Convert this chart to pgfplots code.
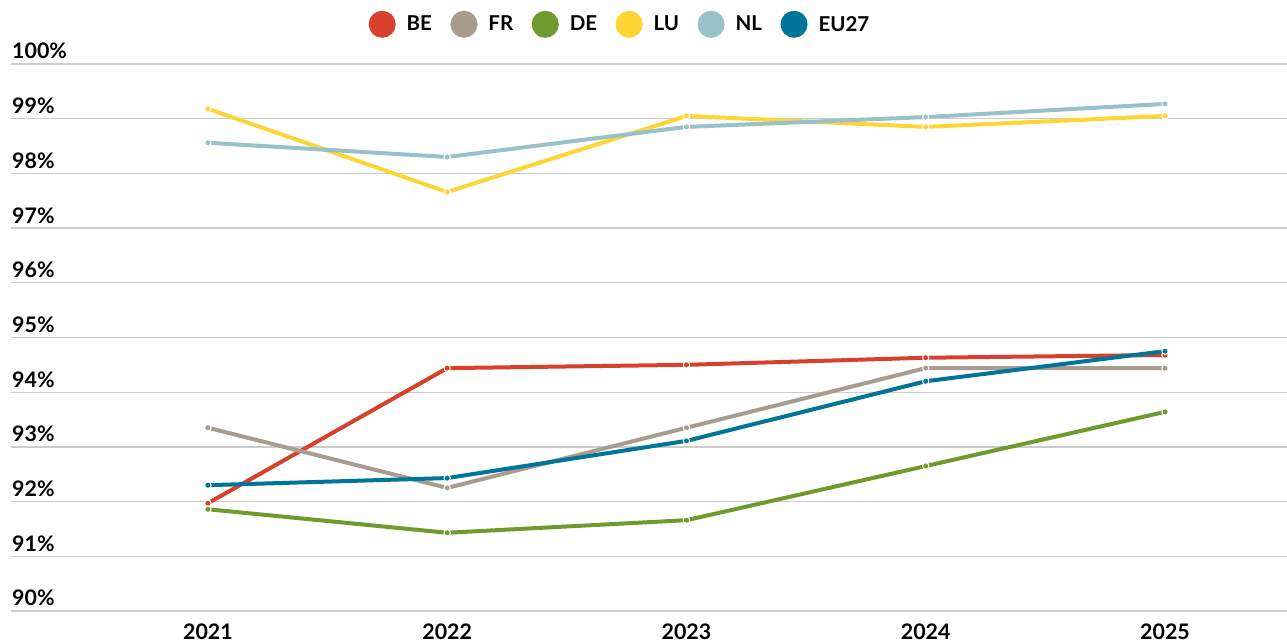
\documentclass[border=0pt]{standalone}
\usepackage{pgfplots}
\pgfplotsset{compat=1.18}
\usepackage{fontspec}
\setmainfont{Lato}
\definecolor{cBE}{HTML}{D7402A}
\definecolor{cFR}{HTML}{A89C8F}
\definecolor{cDE}{HTML}{6F9A2E}
\definecolor{cLU}{HTML}{FDD535}
\definecolor{cNL}{HTML}{99C1C9}
\definecolor{cEU}{HTML}{00759A}
\begin{document}
\begin{tikzpicture}
\begin{axis}[
  at={(0,0)}, anchor=south west,
  scale only axis, width=1276pt, height=547pt,
  xmin=2020.177, xmax=2025.51, ymin=90, ymax=100,
  axis line style={draw=none},
  tick style={draw=none},
  clip=false,
  xtick={2021,2022,2023,2024,2025},
  xticklabels={2021,2022,2023,2024,2025},
  ytick={90,91,92,93,94,95,96,97,98,99,100},
  yticklabels={90\%,91\%,92\%,93\%,94\%,95\%,96\%,97\%,98\%,99\%,100\%},
  ymajorgrids, grid style={draw=black!20, line width=1.3pt},
  major tick length=0pt,
  tick label style={font=\fontsize{21.4}{25}\selectfont\bfseries, text=black},
  yticklabel style={anchor=base west, inner sep=0pt, xshift=1pt, yshift=5pt},
  xticklabel style={anchor=north, inner sep=0pt, yshift=-13pt},
  every axis plot/.append style={line width=4pt, mark=*, mark size=3.2pt},
  legend columns=6,
  legend style={at={(0.5,1)}, anchor=south, xshift=-29pt, yshift=26pt, draw=none, fill=none,
    font=\fontsize{20.5}{24}\selectfont\bfseries, inner sep=0pt,
    /tikz/every odd column/.append style={column sep=9pt},
    /tikz/every even column/.append style={column sep=16.5pt}},
  legend image code/.code={\fill (0pt,0pt) circle (11.5pt);},
]
\addplot[color=cBE, mark options={fill=cBE, draw=white, line width=1pt}] coordinates {(2021,91.97) (2022,94.44) (2023,94.50) (2024,94.63) (2025,94.68)};
\addlegendentry{BE}
\addplot[color=cFR, mark options={fill=cFR, draw=white, line width=1pt}] coordinates {(2021,93.35) (2022,92.25) (2023,93.35) (2024,94.44) (2025,94.44)};
\addlegendentry{FR}
\addplot[color=cDE, mark options={fill=cDE, draw=white, line width=1pt}] coordinates {(2021,91.86) (2022,91.43) (2023,91.66) (2024,92.65) (2025,93.64)};
\addlegendentry{DE}
\addplot[color=cLU, mark options={fill=cLU, draw=white, line width=1pt}] coordinates {(2021,99.18) (2022,97.66) (2023,99.05) (2024,98.85) (2025,99.05)};
\addlegendentry{LU}
\addplot[color=cNL, mark options={fill=cNL, draw=white, line width=1pt}] coordinates {(2021,98.56) (2022,98.30) (2023,98.85) (2024,99.03) (2025,99.27)};
\addlegendentry{NL}
\addplot[color=cEU, mark options={fill=cEU, draw=white, line width=1pt}] coordinates {(2021,92.30) (2022,92.43) (2023,93.11) (2024,94.20) (2025,94.75)};
\addlegendentry{EU27}
\end{axis}
\pgfresetboundingbox
\path (-11pt,-33pt) rectangle (1276pt,611pt);
\end{tikzpicture}
\end{document}
